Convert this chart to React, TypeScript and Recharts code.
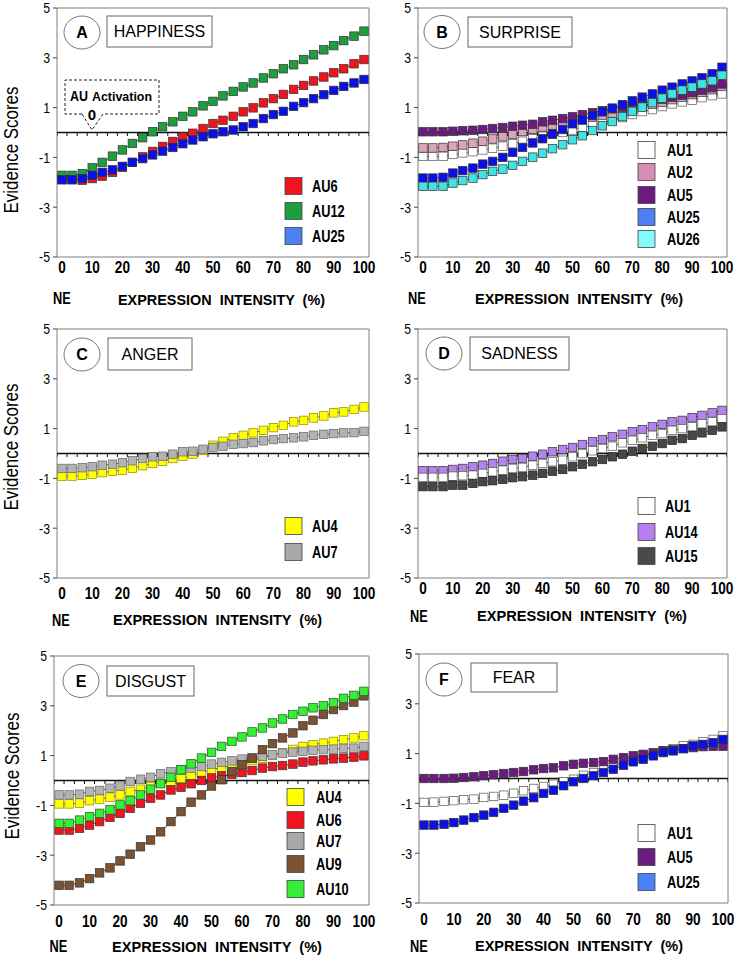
import React from 'react';
import { ComposedChart, Line, XAxis, YAxis, ReferenceLine, ReferenceArea } from 'recharts';

// expression intensity (%) for the 31 frames, NE = 0
const INTENSITY = [
  0, 3.3, 6.7, 10, 13.3, 16.7, 20, 23.3, 26.7, 30, 33.3, 36.7, 40, 43.3, 46.7, 50,
  53.3, 56.7, 60, 63.3, 66.7, 70, 73.3, 76.7, 80, 83.3, 86.7, 90, 93.3, 96.7, 100,
];
const X_TICKS = [0, 10, 20, 30, 40, 50, 60, 70, 80, 90, 100];
const Y_TICKS = [-5, -3, -1, 1, 3, 5];

// A - happiness
const A_AU6 = [-1.88, -1.88, -1.92, -1.85, -1.75, -1.6, -1.4, -1.2, -0.98, -0.76, -0.56, -0.36, -0.18, -0.03, 0.16, 0.36, 0.49, 0.65, 0.83, 0.99, 1.19, 1.36, 1.53, 1.73, 1.89, 2.07, 2.23, 2.4, 2.56, 2.76, 2.93];
const A_AU12 = [-1.72, -1.72, -1.65, -1.42, -1.2, -0.95, -0.7, -0.44, -0.21, 0.03, 0.23, 0.43, 0.65, 0.83, 1.07, 1.25, 1.47, 1.65, 1.83, 1.99, 2.19, 2.36, 2.56, 2.72, 2.93, 3.12, 3.32, 3.49, 3.69, 3.87, 4.07];
const A_AU25 = [-1.9, -1.9, -1.85, -1.72, -1.6, -1.5, -1.36, -1.2, -1.05, -0.9, -0.75, -0.6, -0.45, -0.3, -0.17, -0.05, 0.03, 0.1, 0.23, 0.36, 0.56, 0.72, 0.85, 1.05, 1.2, 1.36, 1.52, 1.69, 1.85, 1.99, 2.13];

// B - surprise
const B_AU1 = [-0.96, -0.96, -0.96, -0.88, -0.82, -0.77, -0.7, -0.63, -0.55, -0.45, -0.35, -0.25, -0.15, -0.07, 0.0, 0.1, 0.2, 0.3, 0.4, 0.5, 0.6, 0.72, 0.84, 0.92, 1.04, 1.15, 1.23, 1.3, 1.4, 1.48, 1.55];
const B_AU2 = [-0.62, -0.62, -0.6, -0.55, -0.5, -0.43, -0.35, -0.26, -0.17, -0.07, 0.04, 0.13, 0.22, 0.3, 0.38, 0.46, 0.54, 0.62, 0.7, 0.78, 0.86, 0.95, 1.04, 1.13, 1.22, 1.32, 1.42, 1.52, 1.62, 1.72, 1.85];
const B_AU5 = [0.03, 0.03, 0.03, 0.05, 0.07, 0.09, 0.12, 0.16, 0.2, 0.25, 0.29, 0.33, 0.43, 0.49, 0.56, 0.63, 0.72, 0.8, 0.88, 0.95, 1.02, 1.1, 1.18, 1.26, 1.34, 1.42, 1.5, 1.6, 1.7, 1.8, 1.95];
const B_AU25 = [-1.83, -1.83, -1.8, -1.63, -1.53, -1.43, -1.27, -1.16, -1.0, -0.8, -0.6, -0.42, -0.25, -0.06, 0.12, 0.35, 0.5, 0.68, 0.83, 0.98, 1.12, 1.27, 1.42, 1.55, 1.7, 1.82, 1.95, 2.07, 2.2, 2.36, 2.62];
const B_AU26 = [-2.16, -2.16, -2.16, -2.03, -1.93, -1.83, -1.69, -1.56, -1.47, -1.32, -1.16, -0.99, -0.83, -0.65, -0.49, -0.29, -0.13, 0.08, 0.27, 0.44, 0.64, 0.85, 1.02, 1.2, 1.38, 1.55, 1.7, 1.82, 1.95, 2.08, 2.3];

// C - anger
const C_AU4 = [-0.91, -0.91, -0.88, -0.83, -0.77, -0.71, -0.67, -0.59, -0.49, -0.4, -0.31, -0.2, -0.11, -0.02, 0.12, 0.33, 0.49, 0.64, 0.73, 0.83, 0.93, 1.04, 1.13, 1.27, 1.33, 1.43, 1.51, 1.63, 1.67, 1.77, 1.87];
const C_AU7 = [-0.6, -0.6, -0.57, -0.53, -0.47, -0.43, -0.37, -0.29, -0.2, -0.13, -0.11, -0.03, 0.07, 0.09, 0.17, 0.24, 0.29, 0.37, 0.4, 0.44, 0.51, 0.56, 0.6, 0.63, 0.67, 0.73, 0.77, 0.8, 0.83, 0.84, 0.89];

// D - sadness
const D_AU1 = [-0.96, -0.96, -0.96, -0.91, -0.89, -0.87, -0.8, -0.73, -0.67, -0.6, -0.56, -0.47, -0.4, -0.33, -0.27, -0.13, 0, 0.11, 0.2, 0.29, 0.43, 0.53, 0.63, 0.73, 0.8, 0.93, 1.0, 1.07, 1.2, 1.27, 1.4];
const D_AU14 = [-0.69, -0.69, -0.69, -0.64, -0.6, -0.53, -0.47, -0.4, -0.31, -0.24, -0.2, -0.11, -0.03, 0.07, 0.16, 0.24, 0.36, 0.47, 0.56, 0.67, 0.77, 0.87, 0.96, 1.07, 1.17, 1.27, 1.33, 1.44, 1.53, 1.63, 1.73];
const D_AU15 = [-1.33, -1.33, -1.33, -1.27, -1.27, -1.2, -1.13, -1.09, -1.04, -0.97, -0.93, -0.87, -0.8, -0.71, -0.64, -0.53, -0.43, -0.33, -0.24, -0.13, -0.03, 0.09, 0.2, 0.29, 0.4, 0.53, 0.6, 0.73, 0.83, 0.93, 1.07];

// E - disgust
const E_AU4 = [-0.94, -0.94, -0.91, -0.81, -0.75, -0.67, -0.58, -0.44, -0.35, -0.24, -0.11, -0.04, 0.07, 0.19, 0.32, 0.43, 0.52, 0.6, 0.7, 0.8, 0.9, 1.02, 1.12, 1.25, 1.37, 1.44, 1.5, 1.57, 1.64, 1.71, 1.8];
const E_AU6 = [-1.99, -1.99, -1.92, -1.79, -1.65, -1.48, -1.32, -1.12, -0.91, -0.71, -0.58, -0.38, -0.27, -0.13, 0.0, 0.1, 0.18, 0.25, 0.32, 0.4, 0.5, 0.56, 0.6, 0.66, 0.74, 0.79, 0.83, 0.87, 0.9, 0.94, 0.99];
const E_AU7 = [-0.58, -0.58, -0.55, -0.44, -0.4, -0.31, -0.22, -0.04, 0.05, 0.13, 0.27, 0.36, 0.43, 0.5, 0.56, 0.66, 0.73, 0.79, 0.86, 0.9, 0.97, 1.03, 1.1, 1.14, 1.17, 1.21, 1.24, 1.26, 1.29, 1.3, 1.37];
const E_AU9 = [-4.21, -4.21, -4.11, -3.94, -3.71, -3.51, -3.23, -2.96, -2.66, -2.39, -2.06, -1.65, -1.25, -0.87, -0.58, -0.22, 0.03, 0.36, 0.63, 0.9, 1.24, 1.48, 1.71, 1.91, 2.2, 2.42, 2.65, 2.85, 3.01, 3.15, 3.4];
const E_AU10 = [-1.72, -1.72, -1.59, -1.45, -1.32, -1.18, -0.98, -0.81, -0.58, -0.35, -0.13, 0.13, 0.43, 0.67, 0.9, 1.13, 1.37, 1.57, 1.75, 1.95, 2.11, 2.31, 2.47, 2.65, 2.78, 2.92, 3.0, 3.13, 3.3, 3.42, 3.58];

// F - fear
const F_AU1 = [-0.96, -0.95, -0.92, -0.89, -0.85, -0.83, -0.76, -0.72, -0.67, -0.59, -0.49, -0.4, -0.32, -0.23, -0.13, -0.03, 0.13, 0.24, 0.37, 0.51, 0.64, 0.77, 0.91, 1.0, 1.11, 1.2, 1.31, 1.37, 1.47, 1.57, 1.72];
const F_AU5 = [0, 0, 0, 0.01, 0.04, 0.07, 0.11, 0.15, 0.2, 0.24, 0.28, 0.35, 0.4, 0.43, 0.51, 0.57, 0.61, 0.64, 0.68, 0.77, 0.84, 0.91, 0.97, 1.04, 1.11, 1.15, 1.2, 1.24, 1.28, 1.29, 1.3];
const F_AU25 = [-1.87, -1.87, -1.84, -1.77, -1.67, -1.57, -1.47, -1.36, -1.2, -1.07, -0.91, -0.77, -0.6, -0.47, -0.29, -0.13, 0.0, 0.11, 0.24, 0.37, 0.53, 0.67, 0.77, 0.91, 1.04, 1.11, 1.2, 1.31, 1.37, 1.44, 1.57];

const FONT = "'Liberation Sans', Arial, Helvetica, sans-serif";
const X_MIN = -5 / 3;
const X_MAX = 100 + 5 / 3;
// category edges: small ticks on the zero line
const EDGE_ROWS = [...INTENSITY.map((x) => ({ x: x - 5 / 3, tick: 0 })), { x: X_MAX, tick: 0 }];

const YW = 50;
const TM = 12;
const RM = 16;
const XH = 36;

type Series = { key: string; label: string; values: number[]; fill: string; swatch: string; edge: string };
const s = (label: string, values: number[], fill: string, swatch = fill, edge = '#333'): Series => ({
  key: label, label, values, fill, swatch, edge,
});

const RED = '#f0141e';
const BLUE = '#0a10e6';
const BLUE_SW = '#4d7ff5';
const PURPLE = '#6a1c7e';
const WHITE = '#ffffff';
const YELLOW = '#ffff00';
const GRAY = '#b3b3b3';

interface Panel {
  letter: string;
  title: string;
  box: { l: number; t: number; r: number; b: number };
  tickOff: number;
  series: Series[];
  drawOrder?: string[];
  circle: { cx: number; cy: number };
  titleBox: { x: number; y: number; w: number; h: number };
  legend: { x: number; labelX: number; rows: number[] };
  ne: { x: number; y: number };
  expr: { x: number; y: number; w: number };
  yLabel?: { x: number; y: number };
}

const PANELS: Panel[] = [
  {
    letter: 'A', title: 'HAPPINESS', box: { l: 57, t: 8, r: 369, b: 257 }, tickOff: 10.5,
    series: [s('AU6', A_AU6, RED), s('AU12', A_AU12, '#1f9e3d'), s('AU25', A_AU25, BLUE, BLUE_SW)],
    circle: { cx: 82, cy: 32.5 }, titleBox: { x: 107, y: 16, w: 105, h: 31 },
    legend: { x: 285, labelX: 312, rows: [186, 211, 236] },
    ne: { x: 62, y: 298 }, expr: { x: 118, y: 300, w: 207 }, yLabel: { x: 18, y: 150 },
  },
  {
    letter: 'B', title: 'SURPRISE', box: { l: 418, t: 8, r: 727, b: 257 }, tickOff: 10.5,
    series: [
      s('AU1', B_AU1, WHITE, WHITE, '#555'),
      s('AU2', B_AU2, '#dba4bb', '#d98cb4'),
      s('AU5', B_AU5, PURPLE),
      s('AU25', B_AU25, BLUE, BLUE_SW),
      s('AU26', B_AU26, '#3fe3e3', '#82fbfb'),
    ],
    circle: { cx: 442, cy: 32 }, titleBox: { x: 468, y: 17, w: 104, h: 30 },
    legend: { x: 638, labelX: 667, rows: [150, 172, 195, 217, 239] },
    ne: { x: 417, y: 298 }, expr: { x: 475, y: 299, w: 208 },
  },
  {
    letter: 'C', title: 'ANGER', box: { l: 57, t: 329, r: 369, b: 578 }, tickOff: 15,
    series: [s('AU4', C_AU4, YELLOW, YELLOW, '#8c8c00'), s('AU7', C_AU7, GRAY, '#a9a9a9', '#666')],
    circle: { cx: 82, cy: 354.5 }, titleBox: { x: 108, y: 338, w: 84, h: 32 },
    legend: { x: 285, labelX: 312, rows: [526, 552] },
    ne: { x: 61, y: 620 }, expr: { x: 113, y: 620, w: 209 }, yLabel: { x: 18, y: 447 },
  },
  {
    letter: 'D', title: 'SADNESS', box: { l: 418, t: 329, r: 727, b: 578 }, tickOff: 10,
    series: [
      s('AU1', D_AU1, WHITE, WHITE, '#555'),
      s('AU14', D_AU14, '#b583ef', '#b67ff0'),
      s('AU15', D_AU15, '#474747', '#4a4a4a', '#222'),
    ],
    drawOrder: ['AU14', 'AU1', 'AU15'],
    circle: { cx: 444, cy: 353.5 }, titleBox: { x: 470, y: 337, w: 99, h: 33 },
    legend: { x: 638, labelX: 665, rows: [506, 532, 556] },
    ne: { x: 419, y: 616 }, expr: { x: 477, y: 616, w: 210 },
  },
  {
    letter: 'E', title: 'DISGUST', box: { l: 54, t: 656, r: 369, b: 905 }, tickOff: 16,
    series: [
      s('AU4', E_AU4, YELLOW, YELLOW, '#8c8c00'),
      s('AU6', E_AU6, RED),
      s('AU7', E_AU7, GRAY, '#a9a9a9', '#666'),
      s('AU9', E_AU9, '#7b5232'),
      s('AU10', E_AU10, '#35ee35', '#35ee35', '#1e5e1e'),
    ],
    circle: { cx: 81, cy: 681 }, titleBox: { x: 107, y: 666, w: 87, h: 30 },
    legend: { x: 287, labelX: 316, rows: [797, 820, 841, 864, 889] },
    ne: { x: 58.5, y: 946.5 }, expr: { x: 112, y: 946.5, w: 210 }, yLabel: { x: 19, y: 776 },
  },
  {
    letter: 'F', title: 'FEAR', box: { l: 419, t: 654, r: 728, b: 903 }, tickOff: 16,
    series: [
      s('AU1', F_AU1, WHITE, WHITE, '#555'),
      s('AU5', F_AU5, PURPLE),
      s('AU25', F_AU25, BLUE, BLUE_SW),
    ],
    circle: { cx: 444, cy: 679.5 }, titleBox: { x: 471, y: 663, w: 86, h: 29 },
    legend: { x: 638, labelX: 667, rows: [833, 857, 882] },
    ne: { x: 419, y: 946 }, expr: { x: 475, y: 946, w: 208 },
  },
];

const square = (ser: Series) => (props: any) => {
  const { cx, cy, index } = props;
  if (cx == null || cy == null) return <g key={`${ser.key}-${index}`} />;
  return (
    <rect key={`${ser.key}-${index}`} x={cx - 4.25} y={cy - 4.25} width={8.5} height={8.5}
      fill={ser.fill} stroke={ser.edge} strokeWidth={0.7} />
  );
};

const tickMark = (props: any) => {
  const { cx, cy, index } = props;
  if (cx == null || cy == null) return <g key={`t-${index}`} />;
  return <line key={`t-${index}`} x1={cx} x2={cx} y1={cy} y2={cy + 3.5} stroke="#111" strokeWidth={1} />;
};

function XTick({ x, y, payload, off }: any) {
  return (
    <text transform={`translate(${x},${y + off}) scale(0.85,1)`} textAnchor="middle" dy="0.36em"
      fontFamily={FONT} fontSize={16} fontWeight={700} fill="#000">
      {payload.value}
    </text>
  );
}

function YTick({ x, y, payload }: any) {
  return (
    <text transform={`translate(${x},${y}) scale(0.82,1)`} textAnchor="end" dy="0.36em"
      fontFamily={FONT} fontSize={15} fill="#000">
      {payload.value}
    </text>
  );
}

function PanelChart({ p }: { p: Panel }) {
  const { l, t, r, b } = p.box;
  const width = r - l + YW + RM;
  const height = b - t + TM + XH;
  const rows = INTENSITY.map((x, i) => {
    const row: Record<string, number> = { x };
    p.series.forEach((ser) => { row[ser.key] = ser.values[i]; });
    return row;
  });
  const order = p.drawOrder ?? p.series.map((ser) => ser.key);
  const drawn = order.map((k) => p.series.find((ser) => ser.key === k)!);
  return (
    <div style={{ position: 'absolute', left: l - YW, top: t - TM, width, height }}>
      <ComposedChart width={width} height={height} data={rows} margin={{ top: TM, right: RM, bottom: 0, left: 0 }}>
        <XAxis dataKey="x" type="number" domain={[X_MIN, X_MAX]} ticks={X_TICKS} interval={0} allowDataOverflow
          axisLine={false} tickLine={false} tickSize={0} tickMargin={0} height={XH}
          tick={(props: any) => <XTick {...props} off={p.tickOff} />} />
        <YAxis type="number" domain={[-5, 5]} ticks={Y_TICKS} interval={0} allowDataOverflow width={YW}
          axisLine={false} tickLine={{ stroke: '#444' }} tickSize={4} tickMargin={3}
          tick={(props: any) => <YTick {...props} />} />
        <ReferenceArea x1={X_MIN} x2={X_MAX} y1={-5} y2={5} fill="none" stroke="#7f7f7f" strokeWidth={1} ifOverflow="visible" />
        <ReferenceLine y={0} stroke="#111" strokeWidth={1.6} />
        <Line data={EDGE_ROWS} dataKey="tick" stroke="none" dot={tickMark} activeDot={false} isAnimationActive={false} />
        {drawn.map((ser) => (
          <Line key={ser.key} dataKey={ser.key} stroke="#2b2b2b" strokeWidth={0.8} dot={square(ser)}
            activeDot={false} isAnimationActive={false} />
        ))}
      </ComposedChart>
    </div>
  );
}

function PanelDecor({ p }: { p: Panel }) {
  const { circle, titleBox, legend, ne, expr, yLabel } = p;
  return (
    <g fontFamily={FONT}>
      {yLabel && (
        <text transform={`translate(${yLabel.x},${yLabel.y}) rotate(-90)`} textAnchor="middle"
          fontSize={21} textLength={127} lengthAdjust="spacingAndGlyphs" fill="#000">
          Evidence Scores
        </text>
      )}
      <ellipse cx={circle.cx} cy={circle.cy} rx={18} ry={16.5} fill="#fff" stroke="#777" strokeWidth={1} />
      <text x={circle.cx} y={circle.cy} dy="0.36em" textAnchor="middle" fontSize={16} fontWeight={700}>{p.letter}</text>
      <rect x={titleBox.x} y={titleBox.y} width={titleBox.w} height={titleBox.h} fill="#fff" stroke="#666" strokeWidth={1} />
      <text x={titleBox.x + titleBox.w / 2} y={titleBox.y + titleBox.h / 2} dy="0.36em" textAnchor="middle" fontSize={16}>
        {p.title}
      </text>
      {p.series.map((ser, i) => (
        <g key={ser.key}>
          <rect x={legend.x} y={legend.rows[i] - 8.5} width={17} height={17} fill={ser.swatch} stroke="#444" strokeWidth={0.8} />
          <text transform={`translate(${legend.labelX},${legend.rows[i]}) scale(0.8,1)`} dy="0.36em"
            fontSize={16} fontWeight={700}>
            {ser.label}
          </text>
        </g>
      ))}
      <text transform={`translate(${ne.x},${ne.y}) scale(0.8,1)`} dy="0.36em" textAnchor="middle" fontSize={16} fontWeight={700}>NE</text>
      <text x={expr.x} y={expr.y} dy="0.36em" fontSize={15} fontWeight={700} textLength={expr.w}
        lengthAdjust="spacingAndGlyphs" style={{ whiteSpace: 'pre' }}>
        {'EXPRESSION  INTENSITY  (%)'}
      </text>
    </g>
  );
}

function Callout() {
  return (
    <g fontFamily={FONT} fontWeight={700}>
      <path d="M82 114 L65 114 L65 80 L159 80 L159 114 L103 114 L92 130 Z" fill="#fff" stroke="#222"
        strokeWidth={1} strokeDasharray="3 2" />
      <text x={70} y={101} fontSize={14} textLength={18} lengthAdjust="spacingAndGlyphs">AU</text>
      <text x={92} y={101} fontSize={13} textLength={60} lengthAdjust="spacingAndGlyphs">Activation</text>
      <text x={92} y={114.5} dy="0.36em" textAnchor="middle" fontSize={15}>0</text>
    </g>
  );
}

export default function App() {
  return (
    <div style={{ position: 'absolute', left: 0, top: 0, width: 735, height: 956, background: '#fff', overflow: 'hidden' }}>
      {PANELS.map((p) => <PanelChart key={p.letter} p={p} />)}
      <svg width={735} height={956} style={{ position: 'absolute', left: 0, top: 0, pointerEvents: 'none' }}>
        {PANELS.map((p) => <PanelDecor key={p.letter} p={p} />)}
        <Callout />
      </svg>
    </div>
  );
}
